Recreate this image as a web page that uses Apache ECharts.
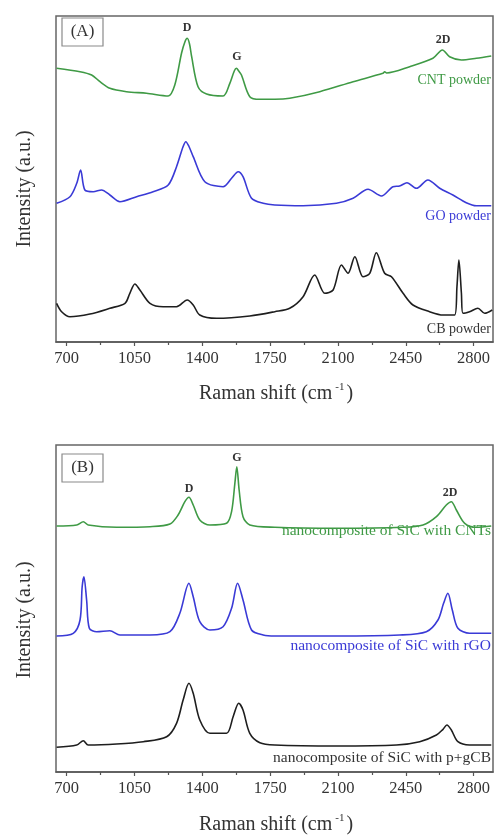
<!DOCTYPE html>
<html>
<head>
<meta charset="utf-8">
<title>Raman spectra</title>
<script src="https://cdn.jsdelivr.net/npm/echarts@6/dist/echarts.min.js"></script>
<style>
  html, body { margin: 0; padding: 0; background: #fff; }
  #chart { width: 496px; height: 838px; }
</style>
</head>
<body>
<div id="chart"></div>
<script>
// Raman shift (cm-1) vs intensity (a.u., offset per trace)
var majorTicks = [700, 1050, 1400, 1750, 2100, 2450, 2800];
var minorTicks = [875, 1225, 1575, 1925, 2275, 2625];

// panel (A) powders
var cntPowder = [[648,273.7],[769,270.3],[829,267],[872,260.3],[923,253.7],[1009,250.3],[1112,248.7],[1224,246],[1258,257],[1293,289],[1310,300],[1322,303.7],[1334,298],[1345,285.3],[1378,255.3],[1422,248],[1507,246],[1542,258.7],[1565,271],[1576,273.7],[1588,271],[1602,267],[1645,245.3],[1697,242.7],[1774,242.7],[1851,243.7],[2006,250.3],[2178,260.3],[2332,268.7],[2341,270.3],[2351,269],[2470,275.3],[2590,283.7],[2639,292],[2676,285.3],[2737,282],[2814,283.7],[2891,286]];
var goPowder = [[648,138.7],[717,145.3],[752,158.7],[772,172],[794,152],[837,150.3],[880,152],[923,147],[975,140.3],[1061,145.3],[1146,150.3],[1224,157],[1267,175.3],[1300,195],[1315,200.3],[1330,196],[1353,185.3],[1413,160.3],[1507,155.3],[1551,163.7],[1585,170.3],[1610,165.3],[1654,143.7],[1714,138.7],[1774,137],[1920,136.3],[2092,138.7],[2178,143.7],[2255,152.7],[2324,146],[2384,155.3],[2418,156],[2456,159.3],[2505,153.7],[2564,162],[2625,153.7],[2693,147],[2762,139.3],[2814,136.3],[2891,136.3]];
var cbPowder = [[648,38.7],[674,30.3],[717,25.3],[820,28],[923,33.7],[1001,38.7],[1026,48.7],[1052,58],[1078,52],[1130,38.7],[1198,35.3],[1267,35.3],[1322,42],[1353,37],[1387,27],[1473,23.7],[1645,26],[1774,30.3],[1851,33.7],[1920,45.3],[1980,67],[2032,48.7],[2075,52],[2118,77],[2152,68.7],[2187,85.3],[2229,65.3],[2264,68.7],[2298,89.3],[2341,68.7],[2376,65.3],[2436,48.7],[2487,37],[2573,30.3],[2642,27],[2702,27],[2714,55.3],[2724,82],[2737,48.7],[2745,28.7],[2779,30.3],[2822,33.7],[2857,28.7],[2896,32]];

// panel (B) SiC nanocomposites
var sicCnt = [[648,246],[752,247],[786,250.3],[811,247],[958,244.7],[1130,245.3],[1233,248],[1275,257],[1310,270.3],[1331,274.7],[1353,267],[1387,252],[1439,247],[1525,248.7],[1551,260.3],[1568,288.7],[1578,305.3],[1590,282],[1610,255.3],[1645,247],[1774,244.7],[2092,243.7],[2436,244.7],[2539,247],[2608,255.3],[2659,267],[2685,270.3],[2711,262],[2754,248.7],[2814,244.7],[2891,246]];
var sicRgo = [[648,136],[734,138.7],[769,152],[780,185.3],[789,195.3],[803,172],[817,143.7],[855,140.3],[923,141.3],[975,137],[1130,137],[1233,140.3],[1284,158.7],[1331,188.7],[1353,175.3],[1387,150.3],[1439,142],[1507,145.3],[1551,163.7],[1582,188.7],[1610,172],[1654,142],[1714,137],[1774,136],[2092,136],[2418,137],[2556,140.3],[2616,152],[2645,168.7],[2667,178.7],[2690,162],[2719,143.7],[2779,138.7],[2891,138.7]];
var sicCb = [[648,24.7],[752,27],[786,31.3],[811,27],[958,28],[1095,30.3],[1216,35.3],[1267,48.7],[1301,72],[1331,88.7],[1353,78.7],[1387,52],[1439,38.7],[1525,38.7],[1559,55.3],[1588,68.7],[1610,62],[1645,38.7],[1697,29.3],[1774,27],[2092,26],[2402,27],[2522,30.3],[2608,37],[2642,42.7],[2662,47],[2685,42],[2719,30.3],[2779,27],[2891,27]];

var GREEN = '#3f9a45', BLUE = '#3a3ad6', BLACK = '#1e1e1e';
var FONT = '"Liberation Serif", "DejaVu Serif", serif';

var myChart = echarts.init(document.getElementById('chart'), null, { renderer: 'canvas' });

function mainX(idx) {
    return {
        type: 'value', gridIndex: idx, min: 645, max: 2900,
        splitLine: { show: false },
        axisLine: { show: true, lineStyle: { color: '#555', width: 1.5 } },
        axisTick: { show: true, inside: false, length: 4, customValues: majorTicks, lineStyle: { color: '#555', width: 1.2 } },
        axisLabel: {
            customValues: majorTicks, margin: 8, fontFamily: FONT, fontSize: 16.5, color: '#333',
            formatter: function (v) { return String(v); }
        }
    };
}
function minorX(idx) {
    return {
        type: 'value', gridIndex: idx, min: 645, max: 2900, position: 'bottom',
        splitLine: { show: false }, axisLine: { show: false },
        axisTick: { show: true, length: 3, customValues: minorTicks, lineStyle: { color: '#555', width: 1.2 } },
        axisLabel: { show: false }
    };
}
function spectrum(name, data, color, idx) {
    return {
        name: name, type: 'line', data: data, xAxisIndex: idx * 2, yAxisIndex: idx,
        showSymbol: false, smooth: 0.3,
        lineStyle: { color: color, width: 1.6 }, animation: false
    };
}
function txt(x, y, s, color, size, align, weight) {
    return {
        type: 'text', x: x, y: y,
        style: { text: s, fill: color, font: (weight || 'normal') + ' ' + size + 'px ' + FONT, align: align || 'center', verticalAlign: 'middle' }
    };
}
function xTitle(y) {
    return {
        type: 'text', x: 276, y: y,
        style: {
            text: 'Raman shift (cm{sup|-1})', fill: '#333', align: 'center', verticalAlign: 'middle',
            fontFamily: FONT, fontSize: 20, lineHeight: 24,
            rich: { sup: { fontFamily: FONT, fontSize: 11, verticalAlign: 'top', lineHeight: 24, padding: [0, 2, 0, 3] } }
        }
    };
}
function yTitle(y) {
    return {
        type: 'text', x: 25, y: y, rotation: Math.PI / 2,
        style: { text: 'Intensity (a.u.)', fill: '#333', font: '20px ' + FONT, align: 'center', verticalAlign: 'middle' }
    };
}
function panelTag(y, s) {
    return [
        { type: 'rect', shape: { x: 62, y: y, width: 41, height: 28 }, style: { fill: 'none', stroke: '#8a8a8a', lineWidth: 1.2 } },
        txt(82.5, y + 14, s, '#333', 17)
    ];
}

var option = {
    backgroundColor: '#fff',
    animation: false,
    grid: [
        { left: 56, right: 3, top: 16, height: 326, show: true, borderColor: '#666', borderWidth: 1.5, backgroundColor: 'transparent' },
        { left: 56, right: 3, top: 445, height: 327, show: true, borderColor: '#666', borderWidth: 1.5, backgroundColor: 'transparent' }
    ],
    xAxis: [mainX(0), minorX(0), mainX(1), minorX(1)],
    yAxis: [
        { type: 'value', gridIndex: 0, min: 0, max: 326, show: false },
        { type: 'value', gridIndex: 1, min: 0, max: 327, show: false }
    ],
    series: [
        spectrum('CNT powder', cntPowder, GREEN, 0),
        spectrum('GO powder', goPowder, BLUE, 0),
        spectrum('CB powder', cbPowder, BLACK, 0),
        spectrum('nanocomposite of SiC with CNTs', sicCnt, GREEN, 1),
        spectrum('nanocomposite of SiC with rGO', sicRgo, BLUE, 1),
        spectrum('nanocomposite of SiC with p+gCB', sicCb, BLACK, 1)
    ],
    graphic: [].concat(
        panelTag(18, '(A)'),
        panelTag(454, '(B)'),
        [
            txt(187, 28, 'D', '#333', 12, 'center', 'bold'),
            txt(237, 57, 'G', '#333', 12, 'center', 'bold'),
            txt(443, 40, '2D', '#333', 12, 'center', 'bold'),
            txt(491, 80, 'CNT powder', GREEN, 14, 'right'),
            txt(491, 216, 'GO powder', BLUE, 14, 'right'),
            txt(491, 329, 'CB powder', '#333', 14, 'right'),
            txt(189, 489, 'D', '#333', 12, 'center', 'bold'),
            txt(237, 458, 'G', '#333', 12, 'center', 'bold'),
            txt(450, 493, '2D', '#333', 12, 'center', 'bold'),
            txt(491, 531, 'nanocomposite of SiC with CNTs', GREEN, 15.5, 'right'),
            txt(491, 646, 'nanocomposite of SiC with rGO', BLUE, 15.5, 'right'),
            txt(491, 758, 'nanocomposite of SiC with p+gCB', '#333', 15.5, 'right'),
            xTitle(394), xTitle(825),
            yTitle(189), yTitle(620)
        ]
    )
};
myChart.setOption(option);
</script>
</body>
</html>
